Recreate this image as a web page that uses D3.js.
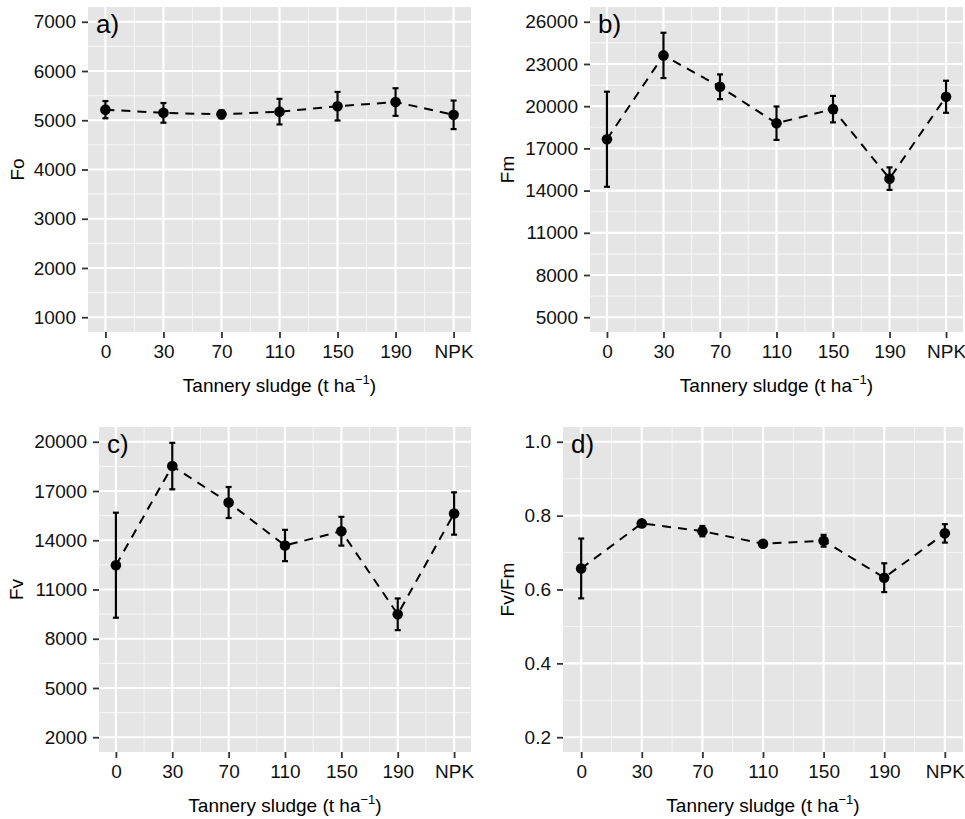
<!DOCTYPE html>
<html>
<head>
<meta charset="utf-8">
<script src="https://cdn.jsdelivr.net/npm/d3@7"></script>
<style>
  body { margin: 0; background: #fff; }
  svg { display: block; font-family: "Liberation Sans", Arial, sans-serif; }
</style>
</head>
<body>
<svg id="chart" width="965" height="819"></svg>
<script>
// treatments on the x axis
const categories = ['0', '30', '70', '110', '150', '190', 'NPK'];

// a) Fo
const foMean = [5215, 5150, 5120, 5175, 5285, 5370, 5110];
const foErr = [175, 200, 80, 260, 290, 280, 290];
const foTicks = [1000, 2000, 3000, 4000, 5000, 6000, 7000];

// b) Fm
const fmMean = [17650, 23610, 21380, 18790, 19790, 14850, 20670];
const fmErr = [3380, 1610, 880, 1190, 940, 800, 1140];
const fmTicks = [5000, 8000, 11000, 14000, 17000, 20000, 23000, 26000];

// c) Fv
const fvMean = [12480, 18520, 16300, 13680, 14550, 9490, 15630];
const fvErr = [3200, 1415, 945, 955, 875, 965, 1290];
const fvTicks = [2000, 5000, 8000, 11000, 14000, 17000, 20000];

// d) Fv/Fm
const ratioMean = [0.657, 0.779, 0.758, 0.724, 0.732, 0.632, 0.752];
const ratioErr = [0.081, 0.006, 0.014, 0.005, 0.016, 0.039, 0.025];
const ratioTicks = [0.2, 0.4, 0.6, 0.8, 1.0];

const panels = [
    { tag: 'a)', ylab: 'Fo', mean: foMean, err: foErr, ticks: foTicks, fmt: d3.format('d'),
      box: { l: 88, r: 471, t: 7, b: 332 }, titleX: 23.5 },
    { tag: 'b)', ylab: 'Fm', mean: fmMean, err: fmErr, ticks: fmTicks, fmt: d3.format('d'),
      box: { l: 590, r: 963, t: 7, b: 332 }, titleX: 513.5 },
    { tag: 'c)', ylab: 'Fv', mean: fvMean, err: fvErr, ticks: fvTicks, fmt: d3.format('d'),
      box: { l: 99, r: 471, t: 427, b: 752 }, titleX: 23 },
    { tag: 'd)', ylab: 'Fv/Fm', mean: ratioMean, err: ratioErr, ticks: ratioTicks, fmt: d3.format('.1f'),
      box: { l: 563, r: 963, t: 427, b: 752 }, titleX: 513.5 }
];

const svg = d3.select('#chart');
const fontSize = '19px';

function drawPanel (p) {
    const box = p.box,
        lo = p.ticks[0],
        hi = p.ticks[p.ticks.length - 1],
        pad = (hi - lo) * 0.05,
        step = p.ticks[1] - p.ticks[0];

    const x = d3.scaleLinear().domain([0.7, categories.length + 0.3]).range([box.l, box.r]),
        y = d3.scaleLinear().domain([lo - pad, hi + pad]).range([box.b, box.t]);

    const g = svg.append('g');

    g.append('rect')
        .attr('x', box.l).attr('y', box.t)
        .attr('width', box.r - box.l).attr('height', box.b - box.t)
        .attr('fill', '#e5e5e5');

    // minor grid
    const xMinor = d3.range(1.5, categories.length, 1),
        yMinor = d3.range(lo - step / 2, hi + step, step).filter(v => v > lo - pad && v < hi + pad);

    g.selectAll('.xminor').data(xMinor).enter().append('line')
        .attr('x1', d => x(d)).attr('x2', d => x(d))
        .attr('y1', box.t).attr('y2', box.b)
        .attr('stroke', '#f4f4f4').attr('stroke-width', 1.1);
    g.selectAll('.yminor').data(yMinor).enter().append('line')
        .attr('y1', d => y(d)).attr('y2', d => y(d))
        .attr('x1', box.l).attr('x2', box.r)
        .attr('stroke', '#f4f4f4').attr('stroke-width', 1.1);

    // major grid
    g.selectAll('.xmajor').data(categories).enter().append('line')
        .attr('x1', (d, i) => x(i + 1)).attr('x2', (d, i) => x(i + 1))
        .attr('y1', box.t).attr('y2', box.b)
        .attr('stroke', '#fff').attr('stroke-width', 2.2);
    g.selectAll('.ymajor').data(p.ticks).enter().append('line')
        .attr('y1', d => y(d)).attr('y2', d => y(d))
        .attr('x1', box.l).attr('x2', box.r)
        .attr('stroke', '#fff').attr('stroke-width', 2.2);

    // axes
    const yAxis = d3.axisLeft(y).tickValues(p.ticks).tickFormat(p.fmt).tickSize(6).tickPadding(6);
    const ya = g.append('g').attr('transform', `translate(${box.l},0)`).call(yAxis);
    ya.select('.domain').remove();
    ya.selectAll('line').attr('stroke', '#333').attr('stroke-width', 1.8);
    ya.selectAll('text').attr('fill', '#111').style('font-size', fontSize);

    const xAxis = d3.axisBottom(x).tickValues(d3.range(1, categories.length + 1))
        .tickFormat(d => categories[d - 1]).tickSize(6).tickPadding(7);
    const xa = g.append('g').attr('transform', `translate(0,${box.b})`).call(xAxis);
    xa.select('.domain').remove();
    xa.selectAll('line').attr('stroke', '#333').attr('stroke-width', 1.8);
    xa.selectAll('text').attr('fill', '#111').style('font-size', fontSize);

    // titles
    const xt = g.append('text')
        .attr('x', (box.l + box.r) / 2).attr('y', box.b + 60)
        .attr('text-anchor', 'middle')
        .style('font-size', fontSize).attr('fill', '#000');
    xt.append('tspan').text('Tannery sludge (t ha');
    xt.append('tspan').text('\u22121').attr('dy', -8).style('font-size', '13px');
    xt.append('tspan').text(')').attr('dy', 8);

    g.append('text')
        .attr('transform', `translate(${p.titleX},${(box.t + box.b) / 2}) rotate(-90)`)
        .attr('text-anchor', 'middle')
        .style('font-size', fontSize).attr('fill', '#000')
        .text(p.ylab);

    g.append('text')
        .attr('x', box.l + 8).attr('y', y(hi) + 11)
        .style('font-size', '26px').attr('fill', '#000')
        .text(p.tag);

    // data
    const pts = categories.map((c, i) => ({ i: i + 1, m: p.mean[i], e: p.err[i] }));

    g.append('path')
        .datum(pts)
        .attr('fill', 'none').attr('stroke', '#000')
        .attr('stroke-width', 2).attr('stroke-dasharray', '9,7')
        .attr('d', d3.line().x(d => x(d.i)).y(d => y(d.m)));

    const cap = 3;
    const eb = g.selectAll('.eb').data(pts).enter().append('g').attr('stroke', '#000').attr('stroke-width', 2.2);
    eb.append('line')
        .attr('x1', d => x(d.i)).attr('x2', d => x(d.i))
        .attr('y1', d => y(d.m - d.e)).attr('y2', d => y(d.m + d.e));
    eb.append('line')
        .attr('x1', d => x(d.i) - cap).attr('x2', d => x(d.i) + cap)
        .attr('y1', d => y(d.m - d.e)).attr('y2', d => y(d.m - d.e));
    eb.append('line')
        .attr('x1', d => x(d.i) - cap).attr('x2', d => x(d.i) + cap)
        .attr('y1', d => y(d.m + d.e)).attr('y2', d => y(d.m + d.e));

    g.selectAll('.pt').data(pts).enter().append('circle')
        .attr('cx', d => x(d.i)).attr('cy', d => y(d.m))
        .attr('r', 5.3).attr('fill', '#000');
}

panels.forEach(drawPanel);
</script>
</body>
</html>
